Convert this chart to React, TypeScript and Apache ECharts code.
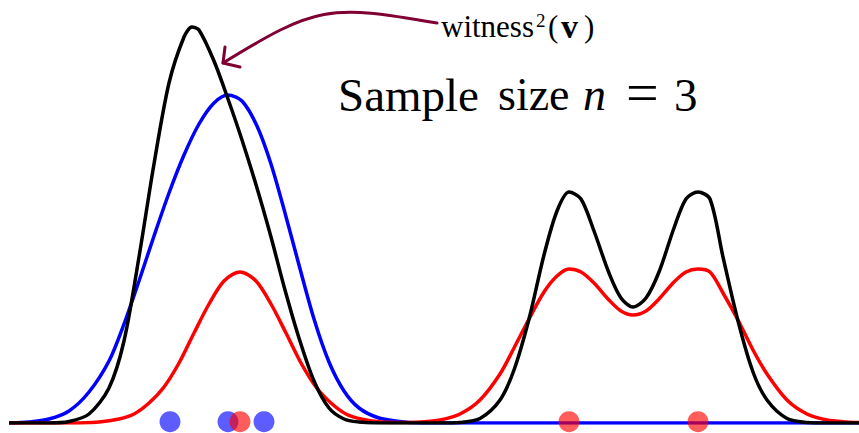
import React, { useEffect, useRef } from "react";
import * as echarts from "echarts";

// Blue density (x, height)
const blueCurve: number[][] = [
  [0, 0], [20, 1], [40, 4], [60, 12], [80, 31], [100, 62], [115, 99], [130, 142],
  [145, 187], [160, 230], [175, 268], [190, 299], [205, 320], [219, 328], [233, 322],
  [248, 297], [262, 259], [276, 210], [290, 158], [305, 104], [320, 61], [335, 32],
  [350, 15], [370, 5], [395, 1], [420, 0], [500, 0], [650, 0], [850, 0],
];

// Red density
const redCurve: number[][] = [
  [0, 0], [60, 0], [90, 1], [110, 4], [125, 9], [140, 20], [155, 36], [170, 60],
  [185, 90], [200, 119], [215, 142], [231, 151], [247, 142], [262, 119], [277, 90],
  [292, 60], [307, 36], [322, 20], [337, 9], [352, 4], [372, 1], [391, 0.5], [411, 1],
  [431, 3], [451, 9], [471, 23], [491, 49], [505, 75], [520, 104], [535, 131],
  [548, 147], [560, 154], [572, 151], [585, 140], [600, 123], [612, 112], [624, 108],
  [637, 112], [650, 124], [665, 141], [677, 151], [689, 154], [701, 151], [714, 130],
  [729, 103], [744, 73], [758, 49], [778, 23], [798, 9], [818, 3], [838, 1], [850, 0.5],
];

// Black witness^2 curve
const witnessCurve: number[][] = [
  [0, 0], [40, 0], [60, 1.5], [80, 9], [100, 35], [115, 82], [130, 166], [145, 259],
  [160, 340], [175, 386], [183, 396], [190, 393], [205, 362], [219, 324], [233, 283],
  [248, 235], [262, 186], [276, 133], [290, 85], [305, 42], [320, 15], [335, 4],
  [350, 1], [370, 0], [431, 0], [451, 0.6], [471, 4.5], [491, 23], [505, 53],
  [520, 104], [535, 168], [548, 212], [560, 231], [572, 224], [585, 192], [600, 150],
  [612, 125], [624, 116], [637, 125], [650, 151], [665, 195], [677, 224], [689, 231],
  [701, 224], [714, 166], [729, 102], [744, 51], [758, 23], [778, 4.5], [798, 0.6],
  [818, 0], [850, 0],
];

const bluePoints: number[] = [161, 219, 255];
const redPoints: number[] = [231, 560, 689];
const sampleLevel = 1.3;

const annotationLabel = "witness";
const annotationSup = "2";
const annotationArg = "v";
const titleWords = ["Sample", "size"];
const titleVar = "n";
const titleEq = "=";
const titleVal = "3";

const SERIF = '"Liberation Serif", "Times New Roman", serif';
const MAROON = "#800033";

export default function App() {
  const ref = useRef<HTMLDivElement>(null);

  useEffect(() => {
    if (!ref.current) return;
    const chart = echarts.init(ref.current, undefined, { renderer: "svg" });

    const txt = (x: number, y: number, text: string, fontSize: number, extra: any = {}) => ({
      type: "text",
      x,
      y,
      z: 100,
      style: {
        text,
        fontSize,
        fontFamily: SERIF,
        fill: "#000",
        align: "left",
        verticalAlign: "middle",
        ...extra,
      },
    });

    const lineSeries = (data: number[][], color: string, z: number) => ({
      type: "line",
      data,
      showSymbol: false,
      smooth: 0.3,
      lineStyle: { color, width: 3.5 },
      z,
    });

    chart.setOption({
      animation: false,
      grid: { left: 9, right: 0, top: 23, bottom: 10 },
      xAxis: { type: "value", min: 0, max: 850, show: false },
      yAxis: { type: "value", min: 0, max: 400, show: false },
      series: [
        lineSeries(blueCurve, "#0000ff", 2),
        lineSeries(redCurve, "#ff0000", 3),
        lineSeries(witnessCurve, "#000000", 4),
        {
          type: "scatter",
          data: bluePoints.map((v) => [v, sampleLevel]),
          symbolSize: 21,
          clip: false,
          itemStyle: { color: "rgba(0,0,255,0.8)" },
          z: 5,
        },
        {
          type: "scatter",
          data: redPoints.map((v) => [v, sampleLevel]),
          symbolSize: 21,
          clip: false,
          itemStyle: { color: "rgba(255,0,0,0.8)" },
          z: 6,
        },
      ],
      graphic: [
        {
          type: "bezierCurve",
          z: 100,
          shape: { x1: 437, y1: 23, cpx1: 328, cpy1: 4, cpx2: 316, cpy2: 6, x2: 223, y2: 63 },
          style: { stroke: MAROON, lineWidth: 3, fill: "none", lineCap: "round" },
        },
        {
          type: "polyline",
          z: 100,
          shape: { points: [[225, 47], [223, 63], [240, 67]] },
          style: { stroke: MAROON, lineWidth: 3, fill: "none", lineCap: "round", lineJoin: "round" },
        },
        txt(441, 26.5, annotationLabel, 31),
        txt(536, 20.5, annotationSup, 19),
        txt(548, 26.5, "(", 31),
        txt(561, 26, annotationArg, 34, { fontWeight: "bold" }),
        txt(584, 26.5, ")", 31),
        txt(338, 94.5, titleWords[0], 47),
        txt(498, 94.5, titleWords[1], 46),
        txt(583, 94.5, titleVar, 46, { fontStyle: "italic" }),
        txt(626, 92, titleEq, 58),
        txt(674, 94.5, titleVal, 47),
      ],
    });

    return () => chart.dispose();
  }, []);

  return (
    <div
      ref={ref}
      style={{ position: "fixed", left: 0, top: 0, width: 859, height: 433, background: "#fff" }}
    />
  );
}
